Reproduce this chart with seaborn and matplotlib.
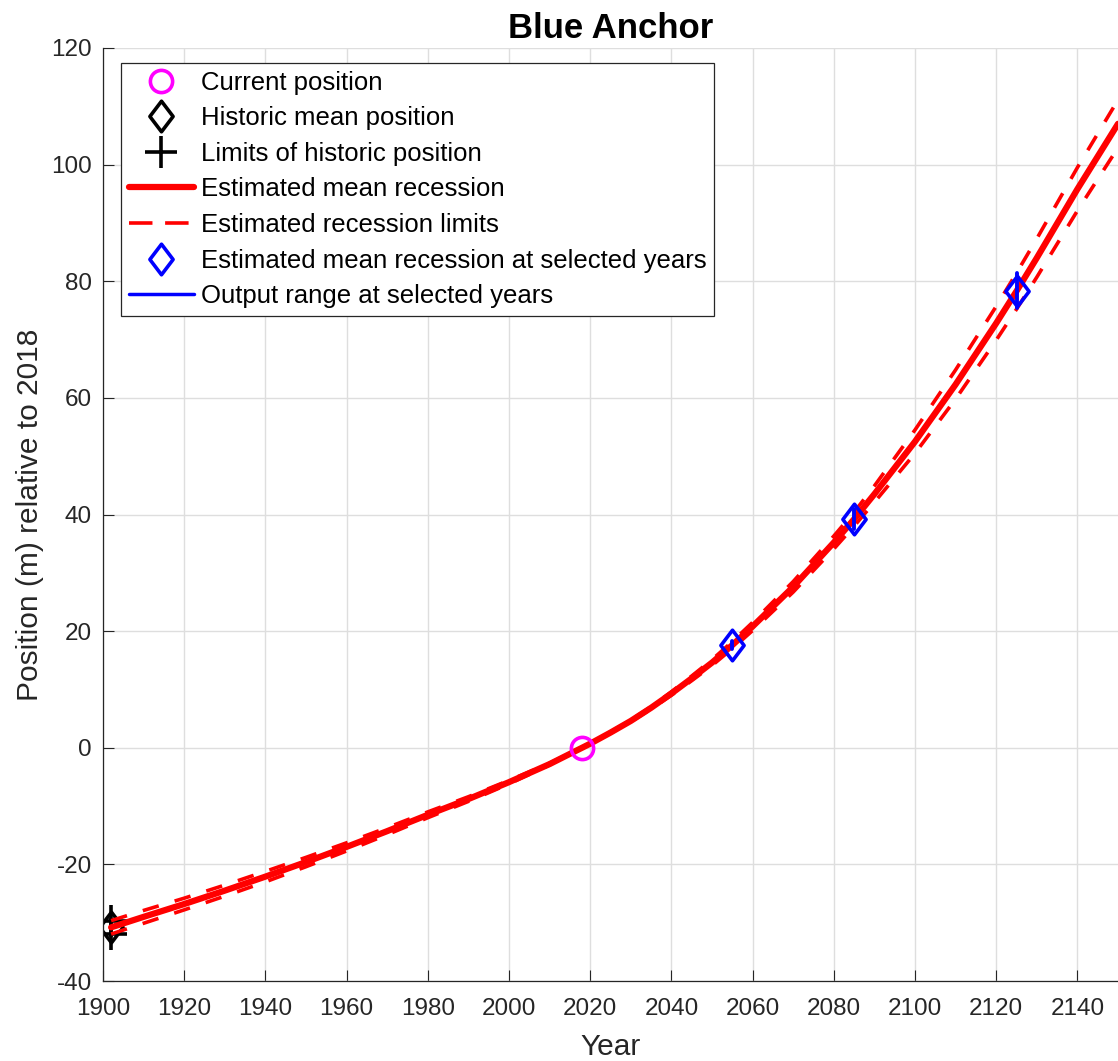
import numpy as np
import pandas as pd
import matplotlib
matplotlib.use("Agg")
import matplotlib.pyplot as plt
from matplotlib.lines import Line2D
from matplotlib.path import Path
import seaborn as sns

# ---------------- data ----------------
title = "Blue Anchor"
x_label = "Year"
y_label = "Position (m) relative to 2018"

curve_years = [1902, 1910, 1920, 1930, 1940, 1950, 1960, 1970, 1980, 1990, 2000, 2010,
               2018, 2020, 2025, 2030, 2035, 2040, 2045, 2050, 2055, 2060, 2070, 2080, 2085,
               2090, 2100, 2110, 2120, 2125, 2130, 2140, 2150]
mean_recession = [-30.8, -29.0, -26.8, -24.5, -22.1, -19.6, -17.0, -14.3, -11.5, -8.8, -5.9, -2.8,
                  0.0, 0.7, 2.6, 4.6, 6.85, 9.3, 11.9, 14.6, 17.6, 20.8, 27.6, 35.2, 39.2,
                  43.5, 52.5, 62.3, 72.8, 78.3, 84.0, 95.8, 107.0]
upper_limit = [-29.65, -27.9, -25.8, -23.55, -21.2, -18.8, -16.3, -13.7, -11.0, -8.4, -5.6, -2.65,
               0.0, 0.75, 2.7, 4.75, 7.05, 9.6, 12.3, 15.1, 18.2, 21.5, 28.5, 36.3, 40.4,
               44.9, 54.5, 64.8, 75.7, 81.4, 87.3, 99.5, 111.1]
lower_limit = [-31.95, -30.1, -27.8, -25.45, -23.0, -20.4, -17.7, -14.9, -12.0, -9.2, -6.2, -2.95,
               0.0, 0.65, 2.5, 4.45, 6.65, 9.0, 11.5, 14.1, 17.0, 20.1, 26.7, 34.1, 38.0,
               42.1, 50.5, 59.8, 69.9, 75.2, 80.7, 92.1, 102.9]

current_year = [2018]
current_position = [0.0]

historic_year = [1902]
historic_mean = [-30.8]
historic_limit_years = [1902, 1902]
historic_limits = [-29.7, -32.0]

selected_years = [2055, 2085, 2125]
selected_mean = [17.6, 39.2, 78.4]
selected_low = [16.9, 37.5, 75.4]
selected_high = [18.3, 40.9, 81.4]

x_ticks = list(range(1900, 2141, 20))
y_ticks = list(range(-40, 121, 20))

legend_labels = ["Current position", "Historic mean position", "Limits of historic position",
                 "Estimated mean recession", "Estimated recession limits",
                 "Estimated mean recession at selected years", "Output range at selected years"]

# ---------------- style ----------------
sns.set_theme(style="white")
plt.rcParams["font.family"] = ["Liberation Sans", "DejaVu Sans"]
plt.rcParams["axes.unicode_minus"] = False
TXT = "#262626"

fig = plt.figure(figsize=(11.18, 10.61), dpi=100)
ax = fig.add_axes([103 / 1118, 80 / 1061, 1015 / 1118, 933 / 1061])

diamond = Path([(0, 1), (0.76, 0), (0, -1), (-0.76, 0), (0, 1)], closed=True)

df_curve = pd.DataFrame({"Year": curve_years, "mean": mean_recession,
                         "upper": upper_limit, "lower": lower_limit})

# historic markers (below the red curves)
sns.lineplot(x=historic_year, y=historic_mean, ax=ax, estimator=None, color="black",
             marker=diamond, ms=22, mfc="none", mec="black", mew=2.6, linestyle="", zorder=2)
sns.lineplot(x=historic_limit_years, y=historic_limits, ax=ax, estimator=None, color="black",
             marker="+", ms=23, mec="black", mew=2.6, linestyle="", zorder=2)

# red curves
sns.lineplot(data=df_curve, x="Year", y="mean", ax=ax, estimator=None, sort=False,
             color="red", lw=4.5, zorder=3)
for col in ["upper", "lower"]:
    sns.lineplot(data=df_curve, x="Year", y=col, ax=ax, estimator=None, sort=False,
                 color="red", lw=2.6, linestyle=(0, (4.6, 4.6)), zorder=3)

# current position
sns.lineplot(x=current_year, y=current_position, ax=ax, estimator=None, color="magenta",
             marker="o", ms=16, mfc="none", mec="magenta", mew=2.6, linestyle="", zorder=4)

# selected years
sns.lineplot(x=selected_years, y=selected_mean, ax=ax, estimator=None, color="blue",
             marker=diamond, ms=22, mfc="none", mec="blue", mew=2.6, linestyle="", zorder=5)
df_range = pd.DataFrame({"Year": selected_years * 2,
                         "Position": selected_low + selected_high})
sns.lineplot(data=df_range, x="Year", y="Position", units="Year", estimator=None,
             ax=ax, color="blue", lw=2.8, zorder=5)

# axes
ax.set_xlim(1900, 2150)
ax.set_ylim(-40, 120)
ax.set_xticks(x_ticks)
ax.set_yticks(y_ticks)
ax.grid(True, color="#dedede", lw=1.0)
ax.set_axisbelow(True)
for s in ["top", "right"]:
    ax.spines[s].set_visible(False)
for s in ["left", "bottom"]:
    ax.spines[s].set_color(TXT)
    ax.spines[s].set_linewidth(0.9)
ax.tick_params(direction="in", length=8, width=0.8, colors=TXT, labelsize=17.5,
               bottom=True, left=True, top=False, right=False)
ax.tick_params(axis="x", pad=12)
ax.tick_params(axis="y", pad=8)

ax.set_xlabel(x_label, fontsize=21.5, color=TXT)
ax.set_ylabel(y_label, fontsize=21.5, color=TXT)
ax.xaxis.set_label_coords(0.5, -0.056)
ax.yaxis.set_label_coords(-0.058, 0.5)
ax.set_title(title, fontsize=25, fontweight="bold", color="black", pad=7)

handles = [
    Line2D([], [], linestyle="", marker="o", ms=16, mfc="none", mec="magenta", mew=2.6),
    Line2D([], [], linestyle="", marker=diamond, ms=22, mfc="none", mec="black", mew=2.6),
    Line2D([], [], linestyle="", marker="+", ms=23, mec="black", mew=2.6),
    Line2D([], [], color="red", lw=4.5),
    Line2D([], [], color="red", lw=2.6, linestyle=(0, (6.5, 3.5))),
    Line2D([], [], linestyle="", marker=diamond, ms=22, mfc="none", mec="blue", mew=2.6),
    Line2D([], [], color="blue", lw=2.5),
]
leg = ax.legend(handles, legend_labels, loc="upper left",
                bbox_to_anchor=(18 / 1015, 1 - 15 / 933), borderaxespad=0,
                fontsize=18.5, frameon=True, fancybox=False, framealpha=1,
                edgecolor=TXT, handlelength=2.55, handletextpad=0.25,
                labelspacing=0.45, borderpad=0.3)
leg.get_frame().set_linewidth(0.9)
for t in leg.get_texts():
    t.set_color("black")

fig.savefig("out.png", dpi=100)
